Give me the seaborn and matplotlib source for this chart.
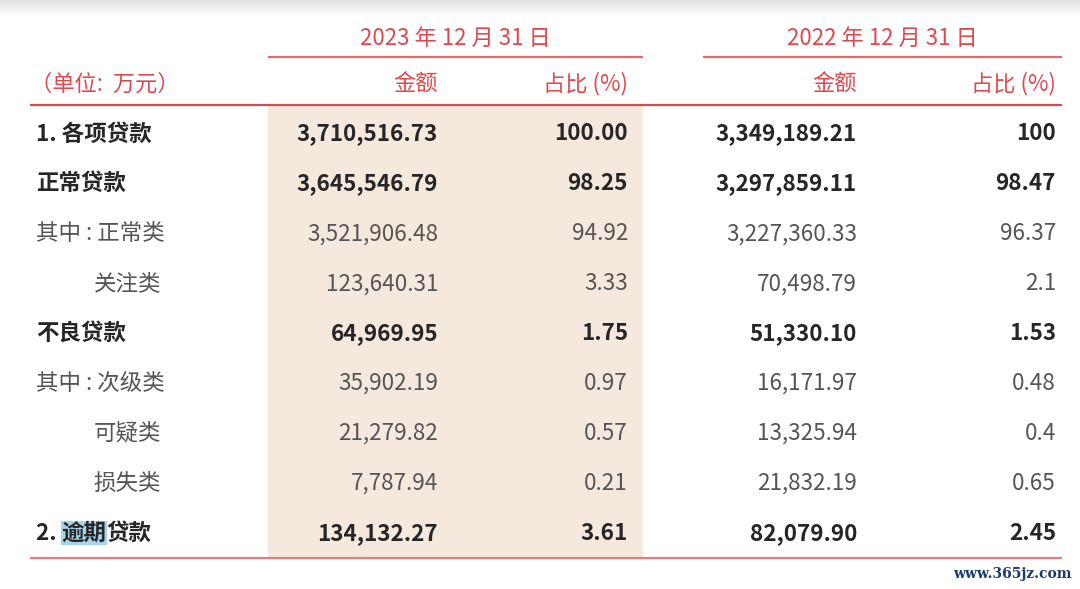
import numpy as np
import matplotlib
matplotlib.use("Agg")
import matplotlib.pyplot as plt
import seaborn as sns

# ── table data ─────────────────────────────────────────────
row_labels = ["1. 各项贷款", "正常贷款", "其中 : 正常类", "关注类", "不良贷款",
              "其中 : 次级类", "可疑类", "损失类", "2. 逾期贷款"]
amount_2023 = ["3,710,516.73", "3,645,546.79", "3,521,906.48", "123,640.31", "64,969.95",
               "35,902.19", "21,279.82", "7,787.94", "134,132.27"]
pct_2023 = ["100.00", "98.25", "94.92", "3.33", "1.75", "0.97", "0.57", "0.21", "3.61"]
amount_2022 = ["3,349,189.21", "3,297,859.11", "3,227,360.33", "70,498.79", "51,330.10",
               "16,171.97", "13,325.94", "21,832.19", "82,079.90"]
pct_2022 = ["100", "98.47", "96.37", "2.1", "1.53", "0.48", "0.4", "0.65", "2.45"]
is_bold = [True, True, False, False, True, False, False, False, True]
is_indent = [False, False, False, True, False, False, True, True, False]

period_titles = ["2023 年 12 月 31 日", "2022 年 12 月 31 日"]
col_titles = ["金额", "占比 (%)"]
unit_label = "（单位:  万元）"

sns.set_theme(style="white")
plt.rcParams["font.family"] = ["Noto Sans CJK SC", "DejaVu Sans"]

RED = "#dc4a50"
LINE = "#e4686e"
DARK = "#262626"
GREY = "#555555"
SHADE = "#f5e8dd"

W, H = 1080, 589
fig = plt.figure(figsize=(W / 100, H / 100), dpi=100)
ax = fig.add_axes([0, 0, 1, 1])
ax.set_xlim(0, W)
ax.set_ylim(H, 0)
ax.axis("off")

# soft shadow along the top edge
grad = np.linspace(0.89, 1.0, 50).reshape(-1, 1)
ax.imshow(np.dstack([grad, grad, grad]), extent=(0, W, 16, 0), aspect="auto", zorder=0)

FS = 16.2
HFS = 16
row_y0, row_step = 134, 49.9
row_y = [row_y0 + i * row_step for i in range(len(row_labels))]

# shaded 2023 block
ax.add_patch(plt.Rectangle((268, 106), 375, 452, color=SHADE, lw=0, zorder=0))

# header
group_spans = [(268, 643), (703, 1062)]
amt_right = [438, 857]
pct_right = [628, 1056]
for (x0, x1), title in zip(group_spans, period_titles):
    ax.text((x0 + x1) / 2, 38, title, color=RED, fontsize=HFS, ha="center", va="center")
    ax.plot([x0, x1], [57, 57], color=LINE, lw=1.6, solid_capstyle="butt")
ax.text(30, 84, unit_label, color=RED, fontsize=HFS, ha="left", va="center")
for g in range(2):
    ax.text(amt_right[g], 84, col_titles[0], color=RED, fontsize=HFS, ha="right", va="center")
    ax.text(pct_right[g], 84, col_titles[1], color=RED, fontsize=HFS, ha="right", va="center")
ax.plot([30, 1062], [105, 105], color="#d94a50", lw=1.6, solid_capstyle="butt")
ax.plot([30, 1062], [558, 558], color="#e77b7d", lw=1.6, solid_capstyle="butt")

# body rows
cols = [amount_2023, pct_2023, amount_2022, pct_2022]
col_right = [amt_right[0], pct_right[0], amt_right[1], pct_right[1]]
for i, y in enumerate(row_y):
    color = DARK if is_bold[i] else GREY
    weight = "bold" if is_bold[i] else "normal"
    label = row_labels[i]
    if label == "2. 逾期贷款":
        t1 = ax.text(36, y, "2. ", color=color, fontsize=FS, fontweight=weight,
                     ha="left", va="center")
        t2 = ax.annotate("逾期", xy=(1, 0), xycoords=t1, va="bottom", ha="left",
                         color=color, fontsize=FS, fontweight=weight,
                         bbox=dict(boxstyle="square,pad=0.02", fc="#a9d3ea", ec="none"))
        ax.annotate("贷款", xy=(1, 0), xycoords=t2, va="bottom", ha="left",
                    color=color, fontsize=FS, fontweight=weight)
    elif is_indent[i]:
        ax.text(161, y, label, color=color, fontsize=FS, fontweight=weight,
                ha="right", va="center")
    else:
        ax.text(36, y, label, color=color, fontsize=FS, fontweight=weight,
                ha="left", va="center")
    for vals, xr in zip(cols, col_right):
        ax.text(xr, y, vals[i], color=color, fontsize=FS, fontweight=weight,
                ha="right", va="center")

# watermark
ax.text(1072, 574, "www.365jz.com", color="#1b3a6b", fontsize=10, fontweight="bold",
        family="DejaVu Serif", ha="right", va="center")

fig.savefig("out.png", dpi=100, facecolor="white")
